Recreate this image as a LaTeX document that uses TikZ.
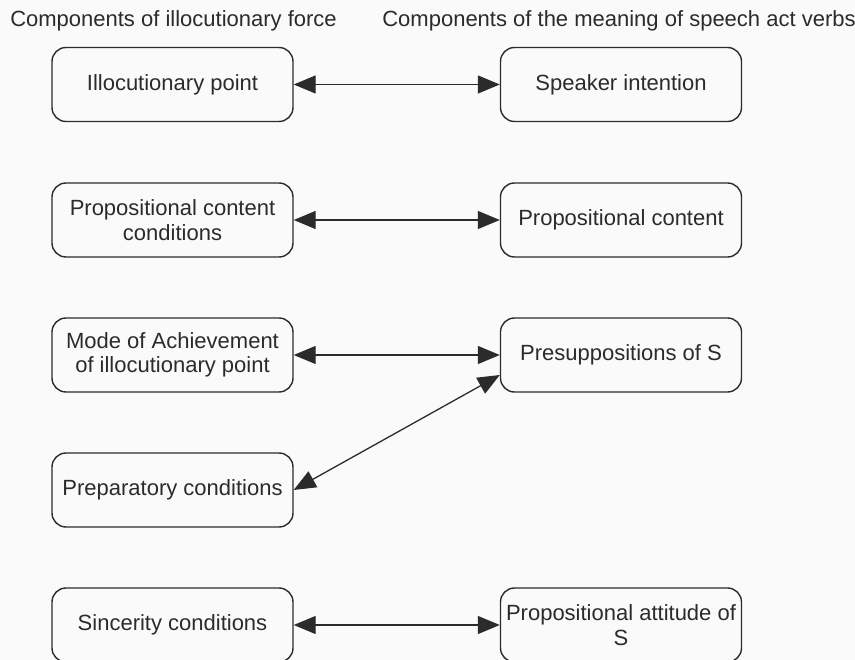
\documentclass[tikz,border=0pt]{standalone}
\usepackage{fontspec}
\setmainfont{Liberation Sans}
\usetikzlibrary{arrows.meta}
\definecolor{ink}{HTML}{2B2B2B}
\definecolor{paper}{HTML}{FAFAFA}
\begin{document}
\begin{tikzpicture}[x=1pt,y=-1pt,
  box/.style={draw=ink, line width=1.4pt, rounded corners=14pt, minimum width=241pt, minimum height=74pt, align=center, inner sep=0pt, font=\fontsize{22}{24.5}\selectfont, text=ink},
  head/.style={font=\fontsize{22}{24.5}\selectfont, text=ink, inner sep=0pt, anchor=base},
  link/.style={draw=ink, line width=1.3pt, {Triangle[length=22pt,width=18pt]}-{Triangle[length=22pt,width=18pt]}}]
\fill[paper] (0,0) rectangle (855,660);
\useasboundingbox (0,0) rectangle (855,660);
\node[head] (h1) at (173.5,27) {Components of illocutionary force};
\node[head] (h2) at (619,27) {Components of the meaning of speech act verbs};
\node[box] (l1) at (172.5,84.5) {Illocutionary point};
\node[box] (l2) at (172.5,220) {Propositional content\\conditions};
\node[box] (l3) at (172.5,355) {Mode of Achievement\\of illocutionary point};
\node[box] (l4) at (172.5,490) {Preparatory conditions};
\node[box] (l5) at (172.5,625) {Sincerity conditions};
\node[box] (r1) at (621,84.5) {Speaker intention};
\node[box] (r2) at (621,220) {Propositional content};
\node[box] (r3) at (621,355) {Presuppositions of S};
\node[box] (r5) at (621,625) {Propositional attitude of\\S};
\draw[link] (l1.east) -- (r1.west);
\draw[link] (l2.east) -- (r2.west);
\draw[link] (l3.east) -- (r3.west);
\draw[link] (l4.east) -- ([yshift=-20pt]r3.west);
\draw[link] (l5.east) -- (r5.west);
\end{tikzpicture}
\end{document}
